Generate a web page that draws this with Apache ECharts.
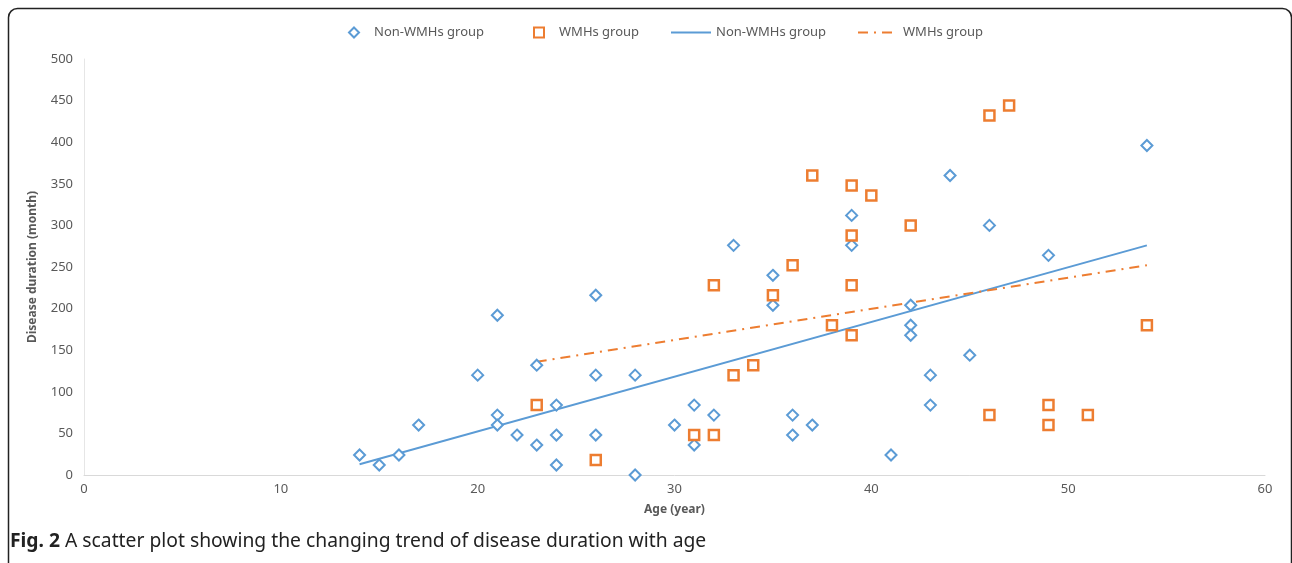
<!DOCTYPE html>
<html>
<head>
<meta charset="utf-8">
<script src="https://cdn.jsdelivr.net/npm/echarts@6/dist/echarts.min.js"></script>
<style>
html,body{margin:0;padding:0;background:#fff;}
#chart{width:1292px;height:563px;}
</style>
</head>
<body>
<div id="chart"></div>
<script>
// Non-WMHs group: age (year), disease duration (month)
var nonWmhsAge = [14,15,16,17,20,21,21,21,22,23,23,24,24,24,26,26,26,28,28,30,31,31,32,33,35,35,36,36,37,39,39,41,42,42,42,43,43,44,45,46,49,54];
var nonWmhsDuration = [24,12,24,60,120,192,72,60,48,132,36,84,48,12,216,120,48,120,0,60,84,36,72,276,240,204,72,48,60,312,276,24,204,180,168,120,84,360,144,300,264,396];
// WMHs group
var wmhsAge = [23,26,31,32,32,33,34,35,36,37,38,39,39,39,39,40,42,46,47,46,49,49,51,54];
var wmhsDuration = [84,18,48,228,48,120,132,216,252,360,180,348,288,228,168,336,300,432,444,72,84,60,72,180];
// Trend line end points
var nonWmhsTrendAge = [14,54];
var nonWmhsTrendDuration = [13,276];
var wmhsTrendAge = [23,54];
var wmhsTrendDuration = [136,252];

var xTicks = {min:0, max:60, interval:10};
var yTicks = {min:0, max:500, interval:50};

function pairs(xs, ys){ return xs.map(function(x,i){ return [x, ys[i]]; }); }

var blue = '#5b9bd5', orange = '#ed7d31', gray = '#595959';
var chart = echarts.init(document.getElementById('chart'));
var font = 'Noto Sans';
function scatterLegend(left, name){
  return {
    top: 21, left: left, itemWidth: 10, itemHeight: 10,
    data: [{name: name}],
    textStyle: {color: gray, fontSize: 13, fontFamily: font, padding: [0, 0, 0, 10]},
    selectedMode: false
  };
}
function lineLegend(left, name){
  return {
    top: 21, left: left, itemWidth: 40, itemHeight: 14,
    data: [{name: name}],
    itemStyle: {opacity: 0},
    lineStyle: {width: 2},
    textStyle: {color: gray, fontSize: 13, fontFamily: font},
    selectedMode: false
  };
}
chart.setOption({
  animation: false,
  textStyle: {fontFamily: font},
  graphic: [{
    type: 'rect', left: 6, top: 6, z: 100, silent: true,
    shape: {width: 1283, height: 580, r: 9},
    style: {fill: 'none', stroke: '#222', lineWidth: 1.5}
  }],
  title: {
    left: 5, top: 527,
    text: '{b|Fig. 2} A scatter plot showing the changing trend of disease duration with age',
    textStyle: {
      fontSize: 19.3, fontWeight: 'normal', color: '#222', fontFamily: font,
      rich: {b: {fontSize: 19.3, fontWeight: 'bold', color: '#222', fontFamily: font}}
    }
  },
  legend: [
    scatterLegend(343, 'Non-WMHs group'),
    scatterLegend(528, 'WMHs group'),
    lineLegend(665, 'Non-WMHs group '),
    lineLegend(852, 'WMHs group ')
  ],
  grid: {left: 84, right: 27, top: 59, bottom: 88},
  xAxis: {
    type: 'value', min: xTicks.min, max: xTicks.max, interval: xTicks.interval,
    name: 'Age (year)', nameLocation: 'middle', nameGap: 29,
    nameTextStyle: {color: gray, fontSize: 12, fontWeight: 'bold', fontFamily: font},
    axisLine: {show: true, lineStyle: {color: '#d9d9d9', width: 1}},
    axisTick: {show: false},
    splitLine: {show: false},
    axisLabel: {color: gray, fontSize: 13, margin: 8, fontFamily: font}
  },
  yAxis: {
    type: 'value', min: yTicks.min, max: yTicks.max, interval: yTicks.interval,
    name: 'Disease duration (month)', nameLocation: 'middle', nameGap: 45, nameRotate: 90,
    nameTextStyle: {color: gray, fontSize: 12, fontWeight: 'bold', fontFamily: font},
    axisLine: {show: true, lineStyle: {color: '#e6e6e6', width: 1}},
    axisTick: {show: false},
    splitLine: {show: false},
    axisLabel: {color: gray, fontSize: 13, margin: 11, fontFamily: font}
  },
  series: [
    {
      name: 'Non-WMHs group', type: 'scatter', symbol: 'diamond', symbolSize: 11,
      itemStyle: {color: '#fff', borderColor: blue, borderWidth: 2, opacity: 1},
      data: pairs(nonWmhsAge, nonWmhsDuration), z: 3
    },
    {
      name: 'WMHs group', type: 'scatter', symbol: 'rect', symbolSize: 10,
      itemStyle: {color: '#fff', borderColor: orange, borderWidth: 2.5, opacity: 1},
      data: pairs(wmhsAge, wmhsDuration), z: 3
    },
    {
      name: 'Non-WMHs group ', type: 'line', symbol: 'none', showSymbol: false,
      lineStyle: {color: blue, width: 2}, itemStyle: {color: blue},
      data: pairs(nonWmhsTrendAge, nonWmhsTrendDuration), z: 2
    },
    {
      name: 'WMHs group ', type: 'line', symbol: 'none', showSymbol: false,
      lineStyle: {color: orange, width: 2, type: [10, 6, 2, 6]}, itemStyle: {color: orange},
      data: pairs(wmhsTrendAge, wmhsTrendDuration), z: 2
    }
  ]
});
</script>
</body>
</html>
